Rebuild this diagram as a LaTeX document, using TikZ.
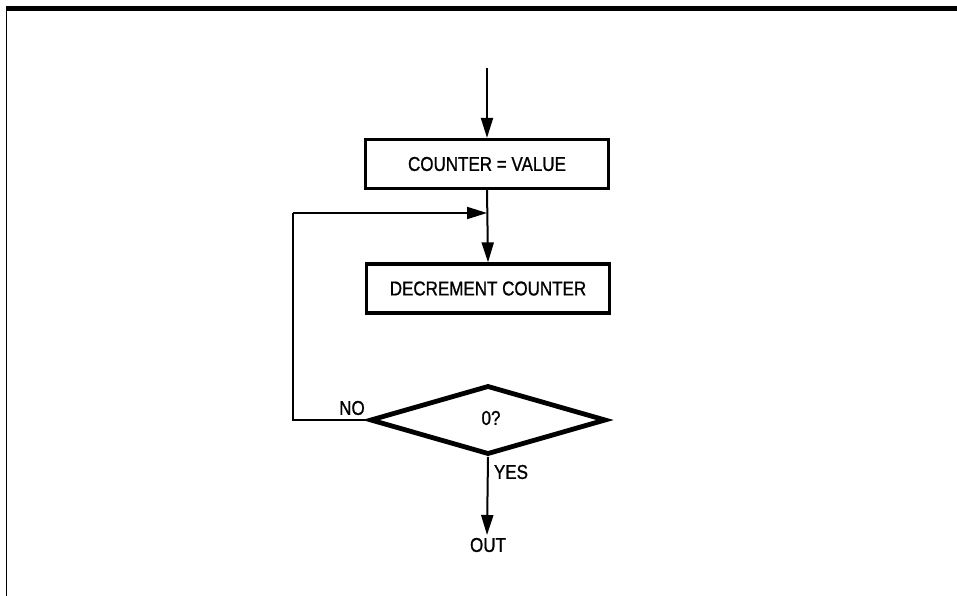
\documentclass[tikz,border=0pt]{standalone}
\usepackage{fontspec}
\setmainfont[FakeStretch=0.85,FakeBold=1]{Liberation Sans}
\usetikzlibrary{shapes.geometric,arrows.meta}
\begin{document}
\begin{tikzpicture}[x=1pt,y=-1pt,
  txt/.style={font=\fontsize{20}{24}\selectfont},
  procbox/.style={draw,txt,line width=3.2pt,minimum width=243pt,minimum height=49pt,inner sep=0pt},
  decision/.style={draw,diamond,line width=4.8pt,minimum width=236pt,minimum height=69pt,inner sep=0pt},
  flow/.style={line width=2pt,-{Triangle[length=20pt,width=12pt]}},
  lbl/.style={txt,inner sep=0pt}]
\useasboundingbox (0,0) rectangle (957,596);
% frame
\draw[line width=5pt] (6,8.5) -- (957,8.5);
\draw[line width=1.8pt] (6.5,6) -- (6.5,596);
% nodes
\coordinate (start) at (487,68);
\node[procbox] (init) at (487,164) {COUNTER = VALUE};
\coordinate (join) at (487,213);
\node[procbox] (dec) at (488,288.5) {DECREMENT COUNTER};
\node[decision] (test) at (488,420) {};
\node[lbl] (q) at (491,418) {0?};
\coordinate (loopbl) at (293,420);
\coordinate (looptl) at (293,213);
\coordinate (out) at (487,535);
\node[lbl] (no) at (352,408) {NO};
\node[lbl] (yes) at (511,472) {YES};
\node[lbl] (outl) at (488,545) {OUT};
% connectors
\draw[flow] (start) -- (init.north);
\draw[flow] (init.south) -- (dec.north);
\draw[line width=2pt] (test.west) -- (loopbl) -- (looptl);
\draw[flow] (looptl) -- (join);
\draw[flow] (test.south) -- (out);
\end{tikzpicture}
\end{document}
